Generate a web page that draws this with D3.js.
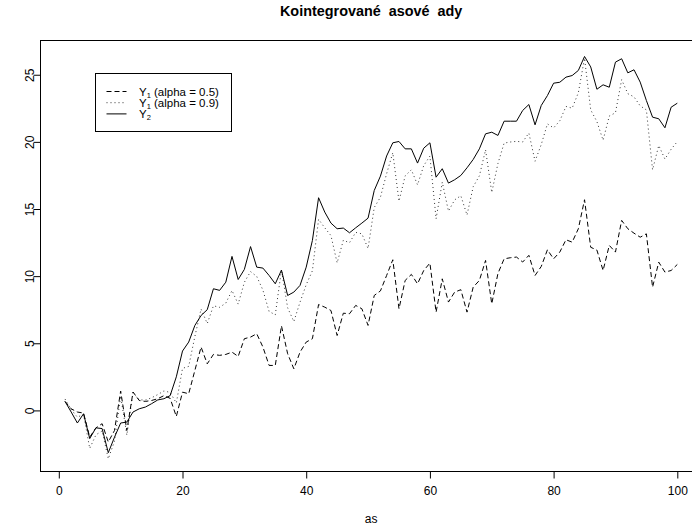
<!DOCTYPE html>
<meta charset="UTF-8">
<style>
    body { margin: 0; background: #fff; }
    svg { display: block; font-family: "Liberation Sans", Arial, sans-serif; }
    .line { fill: none; stroke-width: 1px; }
    .tick text { font-size: 12px; }
</style>
<body>
<script src="https://d3js.org/d3.v7.min.js"></script>
<script>

// Y2 (solid), Y1 with alpha = 0.5 (dashed), Y1 with alpha = 0.9 (dotted), t = 1..100
var y2 = [0.67, -0.12, -0.94, -0.25, -2.10, -1.30, -1.35, -3.15, -2.00, -0.94,
  -0.87, -0.12, 0.12, 0.25, 0.50, 0.78, 0.87, 1.10, 2.50, 4.42,
  5.09, 6.33, 7.07, 7.50, 9.06, 8.94, 9.55, 11.47, 9.75, 10.50,
  12.20, 10.67, 10.60, 10.05, 9.43, 10.45, 8.56, 8.81, 9.31, 10.67,
  12.66, 15.84, 14.77, 13.95, 13.53, 13.58, 13.23, 13.60, 13.95, 14.32,
  16.38, 17.45, 18.95, 19.93, 20.03, 19.48, 19.48, 18.42, 19.53, 19.93,
  17.37, 18.00, 16.93, 17.18, 17.50, 18.07, 18.69, 19.48, 20.60, 20.72,
  20.48, 21.54, 21.54, 21.54, 22.34, 22.78, 21.27, 22.71, 23.45, 24.37,
  24.44, 24.82, 24.94, 25.32, 26.36, 25.58, 23.92, 24.25, 24.07, 25.94,
  26.19, 25.14, 25.37, 24.45, 23.08, 21.84, 21.72, 21.05, 22.58, 22.88];

var y1a05 = [0.67, 0.12, -0.12, -0.20, -1.99, -1.30, -0.99, -2.35, -1.50, 1.44,
  -1.49, 1.37, 0.74, 0.67, 0.74, 0.87, 1.10, 0.90, -0.45, 1.36,
  1.24, 2.98, 4.72, 3.47, 4.17, 4.10, 4.17, 4.34, 4.02, 5.34,
  5.46, 5.71, 4.72, 3.35, 3.35, 6.30, 4.22, 3.10, 4.34, 5.09,
  5.34, 7.89, 7.69, 7.44, 5.58, 7.24, 7.20, 7.82, 7.57, 6.33,
  8.56, 8.90, 10.05, 11.22, 7.57, 9.68, 10.13, 9.43, 10.42, 10.97,
  7.32, 9.80, 8.07, 8.81, 8.99, 7.32, 9.18, 9.68, 11.17, 7.94,
  10.20, 11.29, 11.37, 11.42, 11.05, 11.55, 10.05, 10.72, 11.96, 11.29,
  11.79, 12.71, 12.53, 13.53, 15.69, 12.15, 11.94, 10.42, 12.29, 11.79,
  14.15, 13.53, 13.20, 12.90, 13.15, 9.18, 11.04, 10.30, 10.42, 10.87];

var y1a09 = [0.85, 0.07, -0.50, -0.30, -2.83, -1.82, -1.53, -3.60, -2.30, 1.06,
  -1.84, 1.32, 0.79, 0.77, 0.94, 1.18, 1.45, 1.34, 0.55, 3.13,
  3.28, 5.51, 7.55, 6.47, 7.79, 7.68, 7.99, 8.93, 7.92, 9.54,
  10.34, 9.98, 8.96, 7.37, 7.12, 10.48, 7.64, 6.62, 8.06, 9.36,
  10.40, 14.23, 13.60, 13.02, 10.99, 12.67, 12.49, 13.26, 13.15, 12.06,
  15.11, 15.88, 17.63, 19.19, 15.58, 17.47, 17.92, 16.80, 18.23, 18.94,
  14.27, 17.00, 14.84, 15.68, 15.99, 14.55, 16.66, 17.47, 19.41, 16.23,
  18.39, 19.91, 19.99, 20.04, 19.99, 20.66, 18.56, 19.80, 21.34, 21.04,
  21.57, 22.64, 22.51, 23.66, 26.23, 22.38, 21.51, 20.12, 21.92, 22.17,
  24.63, 23.59, 23.35, 22.68, 22.38, 17.92, 19.73, 18.72, 19.45, 20.02];

var xTicks = [0, 20, 40, 60, 80, 100];
var yTicks = [0, 5, 10, 15, 20, 25];
var legendLabels = [["Y", "1", " (alpha = 0.5)"], ["Y", "1", " (alpha = 0.9)"], ["Y", "2", ""]];
var legendDash = ["5,3", "1,3", null];

var width = 692, height = 528;
var plot = {left: 40.5, right: 701.8, top: 40.5, bottom: 471.5};

var svg = d3.select("body").append("svg")
    .attr("width", width)
    .attr("height", height);

// R style axis limits (4% padding)
var x = d3.scaleLinear().domain([-2.96, 103.96]).range([plot.left, plot.right]);
var y = d3.scaleLinear().domain([-4.55, 27.55]).range([plot.bottom, plot.top]);

// box
svg.append("rect")
    .attr("x", plot.left).attr("y", plot.top)
    .attr("width", plot.right - plot.left).attr("height", plot.bottom - plot.top)
    .attr("fill", "none").attr("stroke", "#000");

// x axis
var xAxis = svg.append("g")
    .attr("transform", "translate(0," + plot.bottom + ")")
    .call(d3.axisBottom(x).tickValues(xTicks).tickSize(7).tickPadding(8));
xAxis.select(".domain").remove();

// y axis, labels rotated like R (las = 0)
var yAxis = svg.append("g")
    .attr("transform", "translate(" + plot.left + ",0)")
    .call(d3.axisLeft(y).tickValues(yTicks).tickSize(7));
yAxis.select(".domain").remove();
yAxis.selectAll(".tick text")
    .attr("x", 0).attr("y", 0).attr("dy", null)
    .attr("text-anchor", "middle")
    .attr("transform", "translate(-6.5,0) rotate(-90)");

// the three series
var idx = d3.range(1, 101);
var line = d3.line()
    .x(function(d, i) { return x(idx[i]); })
    .y(function(d) { return y(d); });

svg.append("path").datum(y1a09).attr("class", "line")
    .attr("stroke", "#333").attr("stroke-dasharray", "1,3").attr("d", line);
svg.append("path").datum(y1a05).attr("class", "line")
    .attr("stroke", "#000").attr("stroke-dasharray", "5,3").attr("d", line);
svg.append("path").datum(y2).attr("class", "line")
    .attr("stroke", "#000").attr("d", line);

// title and axis label
svg.append("text")
    .attr("x", (plot.left + plot.right) / 2).attr("y", 15.5)
    .attr("text-anchor", "middle")
    .style("font-size", "14.4px").style("font-weight", "bold")
    .style("white-space", "pre")
    .text("Kointegrované  asové  ady");

svg.append("text")
    .attr("x", (plot.left + plot.right) / 2).attr("y", 523)
    .attr("text-anchor", "middle")
    .style("font-size", "12px")
    .text("as");

// legend
var lg = svg.append("g");
lg.append("rect")
    .attr("x", 95.5).attr("y", 73.5).attr("width", 136).attr("height", 58)
    .attr("fill", "#fff").attr("stroke", "#000");

legendLabels.forEach(function(lab, i) {
  var cy = 91.5 + i * 11.2;
  var seg = lg.append("line")
      .attr("x1", 106.5).attr("x2", 126.5)
      .attr("y1", cy).attr("y2", cy)
      .attr("stroke", i == 1 ? "#333" : "#000");
  if (legendDash[i]) seg.attr("stroke-dasharray", legendDash[i]);
  var t = lg.append("text")
      .attr("x", 139).attr("y", cy + 4)
      .style("font-size", "11.5px");
  t.append("tspan").text(lab[0]);
  t.append("tspan").attr("dy", 2.5).style("font-size", "7.5px").text(lab[1]);
  if (lab[2]) t.append("tspan").attr("dy", -2.5).text(lab[2]);
});

</script>
</body>
